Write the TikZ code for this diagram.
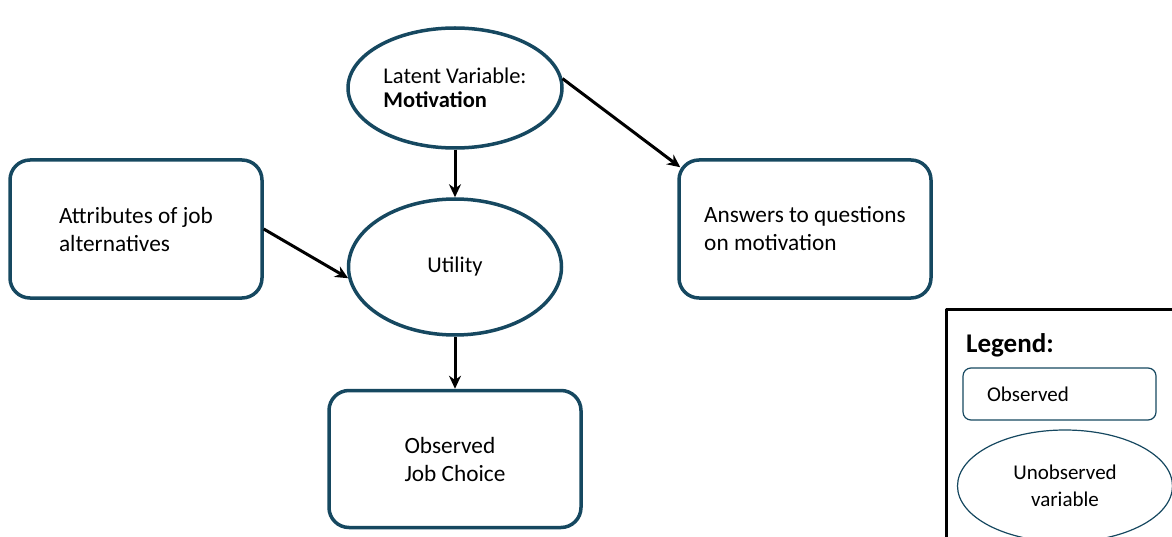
\documentclass[tikz,border=0pt]{standalone}
\usepackage{fontspec}
\setmainfont{Carlito}
\usetikzlibrary{arrows.meta,shapes.geometric,positioning}
\definecolor{boxteal}{RGB}{22,72,96}

\begin{document}
\begin{tikzpicture}[x=1pt,y=-1pt,>={Stealth[length=13pt,width=12pt]},line join=round]
	\clip (0,0) rectangle (1172,537);
	\tikzset{every node/.style={font=\fontsize{21}{27}\selectfont}}
	\tikzset{obs/.style={draw=boxteal,line width=3.5pt,rounded corners=20pt,minimum width=252pt,minimum height=138pt,align=left,font=\fontsize{23.3}{28}\selectfont}}
	\tikzset{latent/.style={draw=boxteal,line width=3.5pt,ellipse,inner sep=0pt,align=left,font=\fontsize{22.5}{24}\selectfont}}
	\tikzset{link/.style={->,line width=3pt,black}}
	\node[latent,minimum width=214pt,minimum height=120pt] (motiv) at (455,88)  {Latent Variable:\\\textbf{Motivation}};
	\node[latent,minimum width=213pt,minimum height=136pt] (util)  at (455,267) {Utility};
	\node[obs] (attr) at (136,229) {Attributes of job\\alternatives};
	\node[obs] (answ) at (805,229) {Answers to questions\\on motivation};
	\node[obs,minimum height=137pt] (choice) at (455,459) {Observed\\Job Choice};
	\coordinate (answin) at ([shift={(3,9)}]answ.north west);
	\draw[link] (motiv.south) -- (util.north);
	\draw[link] (motiv.5) -- (answin);
	\draw[link] (attr.east) -- (util.186);
	\draw[link] (util.south) -- (choice.north);
	% legend
	\draw[line width=3pt] (946,309) rectangle (1190,560);
	\node[font=\bfseries\fontsize{27}{30}\selectfont,anchor=west,inner sep=0pt] (legtitle) at (966,345) {Legend:};
	\node[draw=boxteal,line width=1.2pt,rounded corners=8pt,inner xsep=24pt,text width=145pt,minimum height=52pt,align=left] (legobs) at (1059.5,394) {Observed};
	\node[ellipse,draw=boxteal,line width=1.2pt,inner sep=0pt,minimum width=215pt,minimum height=112pt,align=center] (legunobs) at (1065,486) {Unobserved\\variable};
\end{tikzpicture}
\end{document}
